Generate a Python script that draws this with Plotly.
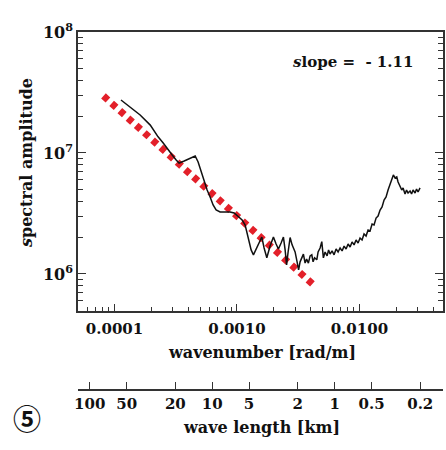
import plotly.graph_objects as go

# ---- data ----
wavenumber = [
    1.13e-4, 1.34e-4, 1.62e-4, 1.96e-4, 2.27e-4, 2.50e-4, 2.74e-4, 2.96e-4, 3.19e-4, 3.37e-4,
    3.71e-4, 4.15e-4, 4.56e-4, 4.82e-4, 5.10e-4, 5.40e-4, 5.71e-4, 6.04e-4, 6.39e-4, 6.76e-4,
    7.29e-4, 8.01e-4, 8.80e-4, 9.49e-4, 1.023e-3, 1.103e-3, 1.167e-3, 1.235e-3, 1.306e-3, 1.364e-3,
    1.435e-3, 1.498e-3, 1.597e-3, 1.667e-3, 1.754e-3, 1.866e-3, 1.986e-3, 2.089e-3, 2.182e-3, 2.295e-3,
    2.397e-3, 2.475e-3, 2.545e-3, 2.618e-3, 2.718e-3, 2.822e-3, 2.986e-3, 3.100e-3, 3.189e-3, 3.280e-3,
    3.387e-3, 3.491e-3, 3.604e-3, 3.707e-3, 3.834e-3, 3.959e-3, 4.087e-3, 4.188e-3, 4.308e-3, 4.490e-3,
    4.602e-3, 4.778e-3, 4.932e-3, 5.082e-3, 5.248e-3, 5.449e-3, 5.605e-3, 5.765e-3, 5.985e-3, 6.215e-3,
    6.454e-3, 6.701e-3, 6.958e-3, 7.225e-3, 7.502e-3, 7.788e-3, 8.087e-3, 8.397e-3, 8.718e-3, 9.051e-3,
    9.399e-3, 9.759e-3, 1.013e-2, 1.052e-2, 1.092e-2, 1.134e-2, 1.178e-2, 1.223e-2, 1.270e-2, 1.318e-2,
    1.369e-2, 1.421e-2, 1.476e-2, 1.532e-2, 1.591e-2, 1.652e-2, 1.715e-2, 1.781e-2, 1.832e-2, 1.895e-2,
    1.956e-2, 2.020e-2, 2.070e-2, 2.149e-2, 2.219e-2, 2.274e-2, 2.361e-2, 2.429e-2, 2.498e-2, 2.594e-2,
    2.668e-2, 2.744e-2, 2.849e-2, 2.931e-2, 3.015e-2, 3.129e-2,
]
amplitude = [
    2.74e7, 2.40e7, 2.06e7, 1.70e7, 1.36e7, 1.21e7, 1.06e7, 9.63e6, 8.75e6, 8.26e6,
    8.59e6, 9.09e6, 9.44e6, 8.43e6, 6.97e6, 5.87e6, 4.94e6, 4.33e6, 3.72e6, 3.38e6,
    3.25e6, 3.25e6, 3.25e6, 3.19e6, 3.01e6, 2.79e6, 2.54e6, 1.98e6, 1.58e6, 1.44e6,
    1.61e6, 1.74e6, 2.02e6, 1.64e6, 1.36e6, 1.70e6, 2.02e6, 1.77e6, 1.61e6, 1.80e6,
    2.02e6, 1.58e6, 1.19e6, 1.52e6, 2.00e6, 1.74e6, 1.52e6, 1.26e6, 1.08e6, 1.26e6,
    1.38e6, 1.46e6, 1.23e6, 1.33e6, 1.23e6, 1.41e6, 1.44e6, 1.26e6, 1.36e6, 1.31e6,
    1.52e6, 1.64e6, 1.85e6, 1.36e6, 1.52e6, 1.41e6, 1.58e6, 1.46e6, 1.55e6, 1.44e6,
    1.61e6, 1.52e6, 1.64e6, 1.55e6, 1.70e6, 1.61e6, 1.77e6, 1.67e6, 1.84e6, 1.74e6,
    1.91e6, 1.80e6, 1.98e6, 1.91e6, 2.14e6, 2.06e6, 2.31e6, 2.27e6, 2.59e6, 2.54e6,
    2.90e6, 3.01e6, 3.38e6, 3.58e6, 4.09e6, 4.33e6, 4.94e6, 5.44e6, 5.98e6, 6.58e6,
    6.22e6, 6.34e6, 5.76e6, 5.34e6, 4.94e6, 5.14e6, 4.58e6, 4.94e6, 4.67e6, 4.85e6,
    4.58e6, 4.94e6, 4.67e6, 5.04e6, 4.76e6, 5.14e6,
]
fit_wavenumber = [8.13e-5, 4.17e-3]
fit_amplitude = [2.96e7, 8.22e5]

k_tickvals = [1e-4, 1e-3, 1e-2]
k_ticktext = ["0.0001", "0.0010", "0.0100"]
amp_tickvals = [1e6, 1e7, 1e8]
amp_ticktext = ["10<sup>6</sup>", "10<sup>7</sup>", "10<sup>8</sup>"]
wavelength_km = [100, 50, 20, 10, 5, 2, 1, 0.5, 0.2]
wavelength_text = ["100", "50", "20", "10", "5", "2", "1", "0.5", "0.2"]
slope_text = "<i>s</i>lope =  - 1.11"

# ---- derived ----
PI = 3.141592653589793
wl_as_k = [2 * PI / (w * 1000.0) for w in wavelength_km]
k_minor = [m * 10.0 ** e for e in (-5, -4, -3, -2) for m in range(2, 10)]
a_minor = [m * 10.0 ** e for e in (5, 6, 7) for m in range(2, 10)]

XR = [-4.298, -1.317]
YR = [5.694, 8.0]
FONT = "DejaVu Serif"
AX = "#333333"

fig = go.Figure()
fig.add_trace(go.Scatter(
    x=fit_wavenumber, y=fit_amplitude, mode="lines",
    line=dict(color="#e3202a", width=7, dash="6px,5px"),
    showlegend=False, hoverinfo="skip"))
fig.add_trace(go.Scatter(
    x=wavenumber, y=amplitude, mode="lines",
    line=dict(color="#111111", width=1.5),
    showlegend=False))
# invisible trace so the wavelength axis is drawn
fig.add_trace(go.Scatter(
    x=wavenumber, y=amplitude, xaxis="x2", yaxis="y", mode="lines",
    opacity=0, showlegend=False, hoverinfo="skip"))

def ann(text, x, y, size, **kw):
    return dict(text=text, xref="paper", yref="paper", x=x, y=y,
                xanchor="center", yanchor="middle", showarrow=False,
                font=dict(family=kw.pop("family", FONT), size=size, weight="bold",
                          color="#111111"), **kw)

fig.update_layout(
    width=446, height=450,
    margin=dict(l=78, r=3, t=32, b=60, autoexpand=False),
    paper_bgcolor="white", plot_bgcolor="white",
    font=dict(family=FONT, color="#111111"),
    xaxis=dict(
        type="log", range=XR, anchor="y", automargin=False,
        showgrid=False, zeroline=False,
        showline=True, linecolor=AX, linewidth=1.5, mirror=True,
        ticks="inside", ticklen=7, tickwidth=1.2, tickcolor=AX,
        tickvals=k_tickvals, ticktext=k_ticktext, ticklabelstandoff=3,
        tickfont=dict(family=FONT, size=15, color="#111111", weight="bold"),
        minor=dict(ticks="inside", ticklen=4, tickwidth=1, tickcolor=AX,
                   tickvals=k_minor, showgrid=False),
    ),
    xaxis2=dict(
        type="log", range=XR, overlaying="x", anchor="free", position=0, side="bottom",
        automargin=False,
        showgrid=False, zeroline=False,
        showline=True, linecolor=AX, linewidth=1.5,
        ticks="inside", ticklen=7, tickwidth=1.2, tickcolor=AX,
        tickvals=wl_as_k, ticktext=wavelength_text,
        tickfont=dict(family=FONT, size=15, color="#111111", weight="bold"),
    ),
    yaxis=dict(
        type="log", range=YR, domain=[0.2207, 1], automargin=False,
        showgrid=False, zeroline=False,
        showline=True, linecolor=AX, linewidth=1.5, mirror="ticks",
        ticks="inside", ticklen=8, tickwidth=1.2, tickcolor=AX,
        tickvals=amp_tickvals, ticktext=amp_ticktext,
        tickfont=dict(family=FONT, size=16, color="#111111", weight="bold"),
        minor=dict(ticks="inside", ticklen=5, tickwidth=1, tickcolor=AX,
                   tickvals=a_minor, showgrid=False),
    ),
    annotations=[
        ann(slope_text, 0.753, 0.916, 15),
        ann("wavenumber [rad/m]", 0.504, 0.106, 16),
        ann("wave length [km]", 0.504, -0.106, 16),
        ann("<i>s</i>pectral amplitude", -0.1425, 0.634, 16, textangle=-90),
        ann("⑤", -0.1397, -0.078, 28, family="Noto Sans CJK JP"),
    ],
)

fig.write_html("out.html", config={"displayModeBar": False},
               post_script="document.body.style.margin='0px';")
